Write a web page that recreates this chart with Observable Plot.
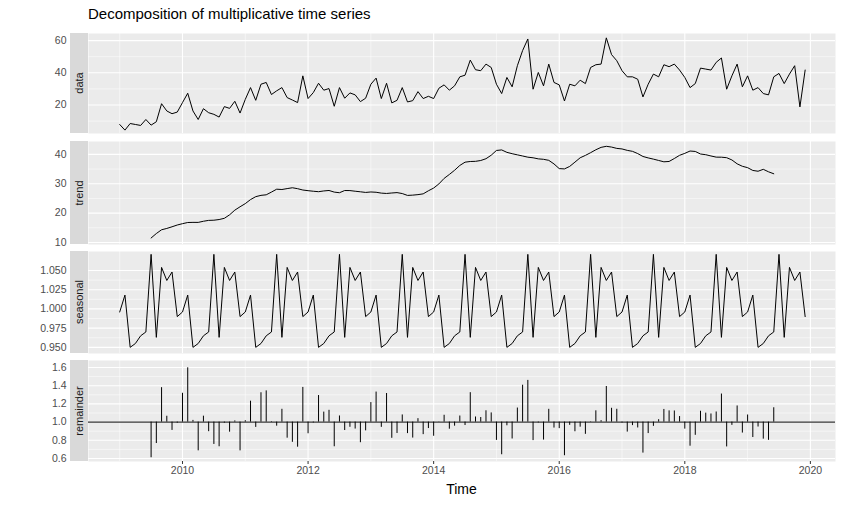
<!DOCTYPE html>
<html>
<head>
<meta charset="utf-8">
<script src="https://cdn.jsdelivr.net/npm/d3@7"></script>
<script src="https://cdn.jsdelivr.net/npm/@observablehq/plot@0.6"></script>
<style>
  body { margin: 0; background: #fff; font-family: "Liberation Sans", Arial, sans-serif; }
  #chart { position: relative; width: 843px; height: 505px; }
  #chart svg { position: absolute; left: 0; overflow: visible; }
  .strip { position: absolute; left: 70px; width: 18px; background: #D9D9D9; }
  .strip span { position: absolute; left: 50%; top: 50%; transform: translate(-50%, -50%) rotate(-90deg);
    font-size: 11px; color: #1A1A1A; white-space: nowrap; }
  #title { position: absolute; left: 88px; top: 5px; font-size: 15px; color: #000; }
  #xlab { position: absolute; left: 0; width: 923px; top: 481px; text-align: center; font-size: 14px; color: #000; }
</style>
</head>
<body>
<div id="chart">
  <div id="title">Decomposition of multiplicative time series</div>
  <div id="xlab">Time</div>
</div>
<script>
// monthly observations, Jan 2009 .. Dec 2019
const observed = [
  7.9, 4.4, 8.5, 7.9, 7.3, 11.0, 7.5, 9.6, 20.8, 16.3, 14.6, 15.6,
  21.5, 27.3, 16.3, 11.0, 17.7, 15.2, 14.2, 12.5, 19.0, 17.9, 22.3, 15.0,
  23.5, 30.8, 22.9, 32.9, 34.0, 26.5, 28.8, 30.8, 24.6, 23.1, 21.5, 38.1,
  24.0, 27.7, 33.5, 29.2, 30.2, 19.2, 30.8, 24.2, 27.5, 26.3, 22.1, 24.2,
  32.9, 36.7, 24.0, 33.5, 21.3, 22.9, 30.8, 21.9, 22.7, 28.3, 24.0, 25.4,
  24.0, 30.4, 32.5, 29.2, 31.9, 37.5, 38.5, 47.9, 41.9, 41.3, 45.4, 43.3,
  32.9, 27.1, 37.1, 31.3, 44.4, 53.8, 61.0, 29.8, 40.2, 31.9, 45.4, 34.0,
  32.5, 22.5, 32.9, 31.9, 35.4, 33.3, 43.3, 45.0, 45.4, 61.7, 51.3, 47.5,
  41.3, 37.5, 37.5, 36.0, 25.0, 32.9, 39.2, 37.5, 45.0, 43.8, 45.4, 41.7,
  37.1, 30.8, 33.3, 42.9, 42.3, 41.7, 46.5, 49.2, 29.8, 38.1, 45.4, 31.3,
  38.1, 29.2, 30.8, 27.1, 26.3, 37.5, 39.6, 33.3, 39.2, 44.4, 18.8, 41.7
];
// seasonal factors Jan..Dec
const seasonalFactors = [0.996, 1.018, 0.950, 0.955, 0.965, 0.970, 1.071, 0.963, 1.054, 1.037, 1.048, 0.990];
const startYear = 2009;
const xTicks = [2010, 2012, 2014, 2016, 2018, 2020];

const time = observed.map((_, i) => startYear + i / 12);
// centred 2x12 moving average, as classical decomposition does
const trend = observed.map((_, i) => {
  if (i < 6 || i > observed.length - 7) return null;
  let s = 0.5 * observed[i - 6] + 0.5 * observed[i + 6];
  for (let k = -5; k <= 5; k++) s += observed[i + k];
  return s / 12;
});
const seasonal = observed.map((_, i) => seasonalFactors[i % 12]);
const remainder = observed.map((v, i) => trend[i] == null ? null : v / (trend[i] * seasonal[i]));

const xDomain = [2008.503, 2020.4];
const rows = [
  { name: "data", top: 33, h: 100, values: observed, domain: [2.3, 64.4], major: [20, 40, 60], minor: [10, 30, 50], fmt: d3.format("d") },
  { name: "trend", top: 141, h: 103, values: trend, domain: [9.3, 44.4], major: [10, 20, 30, 40], minor: [15, 25, 35], fmt: d3.format("d") },
  { name: "seasonal", top: 251, h: 102, values: seasonal, domain: [0.942, 1.0747], major: [0.95, 0.975, 1, 1.025, 1.05], minor: [0.9625, 0.9875, 1.0125, 1.0375], fmt: d3.format(".3f") },
  { name: "remainder", top: 360, h: 101, values: remainder, domain: [0.567, 1.677], major: [0.6, 0.8, 1.0, 1.2, 1.4, 1.6], minor: [0.7, 0.9, 1.1, 1.3, 1.5], fmt: d3.format(".1f") }
];

const chart = document.getElementById("chart");
rows.forEach((r, idx) => {
  const last = idx === rows.length - 1;
  const pts = time.map((t, i) => ({ t, v: r.values[i] })).filter((d) => d.v != null);
  const marks = [
    Plot.frame({ fill: "#EBEBEB", stroke: null }),
    Plot.gridX([2009, 2011, 2013, 2015, 2017, 2019], { stroke: "white", strokeOpacity: 1, strokeWidth: 0.5 }),
    Plot.gridY(r.minor, { stroke: "white", strokeOpacity: 1, strokeWidth: 0.5 }),
    Plot.gridX(xTicks, { stroke: "white", strokeOpacity: 1, strokeWidth: 1.1 }),
    Plot.gridY(r.major, { stroke: "white", strokeOpacity: 1, strokeWidth: 1.1 }),
    Plot.axisY(r.major, { tickSize: 0, tickPadding: 22, tickFormat: r.fmt, fill: "#4D4D4D", fontSize: 10.5, label: null }),
  ];
  if (r.name === "remainder") {
    marks.push(Plot.ruleY([1], { stroke: "black", strokeWidth: 1 }));
    marks.push(Plot.ruleX(pts, { x: "t", y1: () => 1, y2: "v", stroke: "black", strokeWidth: 1 }));
  } else {
    marks.push(Plot.line(pts, { x: "t", y: "v", stroke: "black", strokeWidth: 1 }));
  }
  if (last) {
    marks.push(Plot.axisX(xTicks, { tickSize: 3, stroke: "#333", tickPadding: 2, tickFormat: d3.format("d"), fill: "#4D4D4D", fontSize: 10.5, label: null }));
  }
  const plot = Plot.plot({
    width: 843,
    height: r.h + (last ? 30 : 0),
    marginLeft: 88,
    marginRight: 8,
    marginTop: 0,
    marginBottom: last ? 30 : 0,
    style: { fontFamily: "Liberation Sans, Arial, sans-serif", background: "transparent" },
    x: { domain: xDomain, axis: null },
    y: { domain: r.domain, axis: null },
    marks
  });
  plot.style.top = r.top + "px";
  chart.appendChild(plot);
  const strip = document.createElement("div");
  strip.className = "strip";
  strip.style.top = r.top + "px";
  strip.style.height = r.h + "px";
  strip.innerHTML = `<span>${r.name}</span>`;
  chart.appendChild(strip);
});
</script>
</body>
</html>
